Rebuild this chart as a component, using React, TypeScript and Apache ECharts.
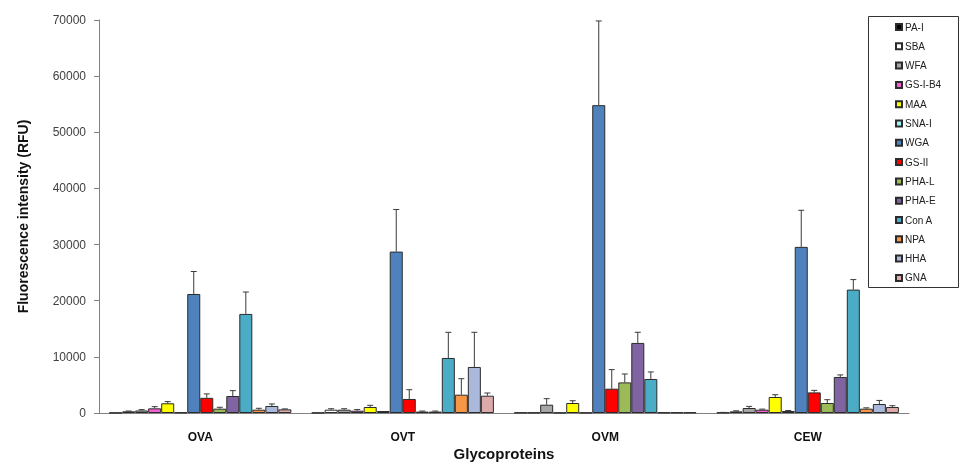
import React, { useEffect, useRef } from "react";
import * as echarts from "echarts";

const categories = ["OVA", "OVT", "OVM", "CEW"];
const lectins = ["PA-I", "SBA", "WFA", "GS-I-B4", "MAA", "SNA-I", "WGA", "GS-II", "PHA-L", "PHA-E", "Con A", "NPA", "HHA", "GNA"];
const yTicks = [0, 10000, 20000, 30000, 40000, 50000, 60000, 70000];

// mean values per glycoprotein, in lectin order
const ovaMeans = [50, 300, 450, 830, 1730, 100, 21200, 2700, 770, 3030, 17650, 590, 1250, 650];
const ovtMeans = [50, 590, 590, 410, 1070, 350, 28750, 2500, 250, 250, 9800, 3260, 8200, 3080];
const ovmMeans = [80, 80, 1480, 60, 1780, 60, 54830, 4330, 5450, 12480, 6060, 100, 100, 100];
const cewMeans = [80, 290, 890, 590, 2850, 350, 29590, 3670, 1780, 6420, 21980, 770, 1600, 1070];

// error (SD) per glycoprotein, in lectin order
const ovaErr = [0, 50, 150, 300, 300, 0, 4000, 700, 250, 950, 3900, 250, 360, 80];
const ovtErr = [0, 170, 170, 200, 300, 0, 7500, 1650, 100, 100, 4570, 2850, 6170, 480];
const ovmErr = [0, 0, 1070, 0, 410, 0, 15000, 3400, 1500, 1900, 1250, 0, 0, 0];
const cewErr = [30, 100, 290, 100, 410, 100, 6520, 360, 590, 360, 1780, 150, 640, 230];

const colors = ["#000000", "#ffffff", "#a6a6a6", "#f25fd2", "#ffff00", "#9ff3fa", "#4f81bd", "#ff0000", "#9bbb59", "#8064a2", "#4bacc6", "#f79646", "#aab9db", "#dcaaaa"];

const meansByCat = [ovaMeans, ovtMeans, ovmMeans, cewMeans];
const errByCat = [ovaErr, ovtErr, ovmErr, cewErr];

export default function App() {
  const ref = useRef<HTMLDivElement>(null);
  useEffect(() => {
    if (!ref.current) return;
    const chart = echarts.init(ref.current, undefined, { renderer: "svg" });
    const nS = lectins.length;
    const catGap = 0.1;
    const barSeries = lectins.map((name, s) => ({
      name,
      type: "bar",
      barGap: "0%",
      barCategoryGap: "10%",
      data: meansByCat.map((arr) => arr[s]),
      itemStyle: { color: colors[s], borderColor: "#2b2b2b", borderWidth: 1 },
      z: 2,
    }));
    const errData: number[][] = [];
    categories.forEach((_, c) => {
      lectins.forEach((_, s) => {
        if (errByCat[c][s] > 0) errData.push([c, meansByCat[c][s], errByCat[c][s], s]);
      });
    });
    const errSeries = {
      type: "custom",
      name: "err",
      z: 5,
      encode: { x: 0, y: 1 },
      data: errData,
      renderItem: (params: any, api: any) => {
        const c = api.value(0);
        const v = api.value(1);
        const e = api.value(2);
        const s = api.value(3);
        const band = api.size([1, 0])[0];
        const bw = (band * (1 - catGap)) / nS;
        const base = api.coord([c, v]);
        const top = api.coord([c, v + e]);
        const x = base[0] - (band * (1 - catGap)) / 2 + bw * (s + 0.5);
        const style = { stroke: "#3a3a3a", lineWidth: 1 };
        return {
          type: "group",
          children: [
            { type: "line", shape: { x1: x, y1: base[1], x2: x, y2: top[1] }, style },
            { type: "line", shape: { x1: x - 3, y1: top[1], x2: x + 3, y2: top[1] }, style },
          ],
        };
      },
    };
    chart.setOption({
      animation: false,
      textStyle: { fontFamily: "Liberation Sans" },
      grid: { left: 99, right: 52, top: 20, bottom: 49, containLabel: false, outerBoundsMode: "none" },
      legend: {
        data: lectins,
        orient: "vertical",
        left: 895,
        top: 21,
        padding: 0,
        icon: "rect",
        itemWidth: 6,
        itemHeight: 6,
        itemGap: 7.3,
        textStyle: { fontSize: 10, lineHeight: 12, color: "#222", padding: [0, 0, 0, -2] },
      },
      graphic: [
        {
          type: "rect",
          z: 0,
          shape: { x: 868.5, y: 16.5, width: 90, height: 271 },
          style: { fill: "#ffffff", stroke: "#333333", lineWidth: 1 },
        },
      ],
      xAxis: {
        type: "category",
        data: categories,
        name: "Glycoproteins",
        nameLocation: "middle",
        nameGap: 33,
        nameMoveOverlap: false,
        nameTextStyle: { fontSize: 15, fontWeight: "bold", color: "#111" },
        axisLine: { lineStyle: { color: "#808080" } },
        axisTick: { length: 6, lineStyle: { color: "#808080" } },
        axisLabel: { fontSize: 12, fontWeight: "bold", color: "#111", margin: 18 },
      },
      yAxis: {
        type: "value",
        min: yTicks[0],
        max: yTicks[yTicks.length - 1],
        interval: yTicks[1] - yTicks[0],
        name: "Fluorescence intensity (RFU)",
        nameLocation: "middle",
        nameGap: 69,
        nameMoveOverlap: false,
        nameTextStyle: { fontSize: 14, fontWeight: "bold", color: "#111" },
        axisLine: { show: true, lineStyle: { color: "#808080" } },
        axisTick: { show: true, length: 5, lineStyle: { color: "#808080" } },
        axisLabel: { fontSize: 12, color: "#404040", margin: 13, formatter: (v: number) => String(v) },
        splitLine: { show: false },
      },
      series: [...barSeries, errSeries],
    });
    return () => chart.dispose();
  }, []);
  return <div ref={ref} style={{ position: "fixed", left: 0, top: 0, width: 961, height: 462 }} />;
}
